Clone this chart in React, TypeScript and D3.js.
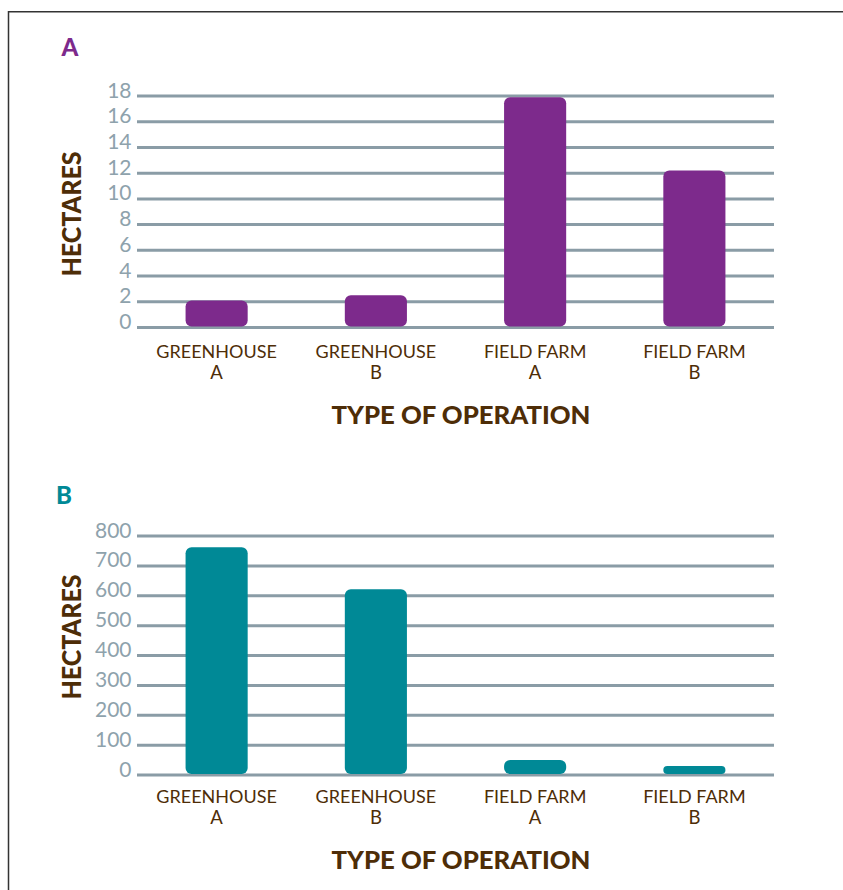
import * as d3 from "d3";

const categories = ["GREENHOUSE A", "GREENHOUSE B", "FIELD FARM A", "FIELD FARM B"];
const categoryTop = ["GREENHOUSE", "GREENHOUSE", "FIELD FARM", "FIELD FARM"];
const categoryBottom = ["A", "B", "A", "B"];

// hectares per operation
const hectaresA = [2.1, 2.5, 17.9, 12.2];
const hectaresB = [762, 622, 50, 30];

const ticksA = [0, 2, 4, 6, 8, 10, 12, 14, 16, 18];
const ticksB = [0, 100, 200, 300, 400, 500, 600, 700, 800];

const W = 843;
const H = 890;
const FONT = "Lato, 'Open Sans', sans-serif";
const BROWN = "#4e2d07";
const GRID = "#8a9ca6";
const TICK = "#8ea2ac";

const x = d3
  .scaleBand<string>()
  .domain(categories)
  .range([137, 774])
  .paddingInner(0.61)
  .paddingOuter(0.305);

type PanelProps = {
  label: string;
  color: string;
  labelX: number;
  labelY: number;
  values: number[];
  ticks: number[];
  yTop: number;
  yBottom: number;
  textY: number; // baseline of the first category line
  titleY: number;
};

const Panel = ({ label, color, labelX, labelY, values, ticks, yTop, yBottom, textY, titleY }: PanelProps) => {
  const y = d3
    .scaleLinear()
    .domain([0, d3.max(ticks) as number])
    .range([yBottom, yTop]);

  return (
    <g>
      <text x={labelX} y={labelY} fill={color} fontSize={24} fontWeight={900} textAnchor="middle">
        {label}
      </text>

      {/* grid + tick labels */}
      {ticks.map((t) => (
        <g key={t}>
          <line x1={137} x2={774} y1={y(t)} y2={y(t)} stroke={GRID} strokeWidth={3} />
          <text x={131.5} y={y(t) + 1.5} fill={TICK} fontSize={21} textAnchor="end">
            {t}
          </text>
        </g>
      ))}

      {/* bars */}
      {values.map((v, i) => {
        const h = y(0) - y(v) - 1;
        return (
          <rect
            key={categories[i]}
            x={x(categories[i])}
            y={y(v)}
            width={x.bandwidth()}
            height={h}
            rx={Math.min(6, h / 2)}
            fill={color}
          />
        );
      })}

      {/* category labels */}
      {categories.map((c, i) => {
        const cx = (x(c) as number) + x.bandwidth() / 2;
        return (
          <text key={c} x={cx} fill={BROWN} fontSize={18} textAnchor="middle">
            <tspan x={cx} y={textY}>{categoryTop[i]}</tspan>
            <tspan x={cx} y={textY + 20.5} fontSize={18.5}>{categoryBottom[i]}</tspan>
          </text>
        );
      })}

      <text
        x={461}
        y={titleY}
        fill={BROWN}
        fontSize={24}
        fontWeight={900}
        textAnchor="middle"
        textLength={259}
        lengthAdjust="spacingAndGlyphs"
      >
        TYPE OF OPERATION
      </text>
    </g>
  );
};

const YTitle = ({ cy }: { cy: number }) => (
  <text
    transform={`translate(81,${cy}) rotate(-90)`}
    fill={BROWN}
    fontSize={27}
    fontWeight={900}
    textAnchor="middle"
    textLength={125}
    lengthAdjust="spacingAndGlyphs"
  >
    HECTARES
  </text>
);

export default function App() {
  return (
    <svg
      width={W}
      height={H}
      style={{ position: "absolute", left: 0, top: 0, background: "#fff", fontFamily: FONT }}
    >
      <path d={`M8.5,${H} V11.75 H${W}`} fill="none" stroke="#333" strokeWidth={1.5} />
      <Panel
        label="A"
        color="#7d2a8c"
        labelX={70}
        labelY={56}
        values={hectaresA}
        ticks={ticksA}
        yTop={96}
        yBottom={327.5}
        textY={358}
        titleY={424}
      />
      <YTitle cy={214} />
      <Panel
        label="B"
        color="#008996"
        labelX={64}
        labelY={504}
        values={hectaresB}
        ticks={ticksB}
        yTop={536}
        yBottom={775}
        textY={803}
        titleY={869}
      />
      <YTitle cy={637} />
    </svg>
  );
}
